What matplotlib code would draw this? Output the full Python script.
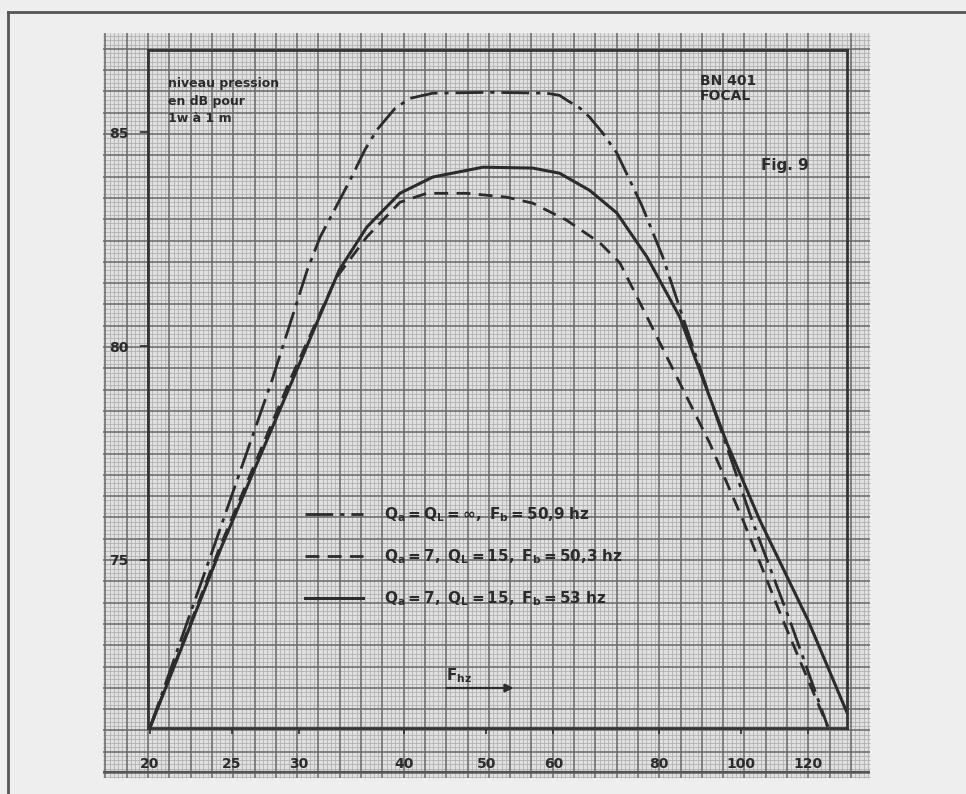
import numpy as np
import matplotlib
matplotlib.use("Agg")
import matplotlib.pyplot as plt
from matplotlib.patches import Rectangle
from matplotlib.ticker import NullLocator, FixedLocator, FixedFormatter

# --- data: sound pressure level (dB, 1 W at 1 m) vs frequency (Hz) ---
freq_inf = [20.0, 23.8, 27.9, 30.7, 31.8, 34.5, 35.9, 37.1, 39.0, 40.6, 43.2, 50.4, 58.9,
            61.0, 62.2, 64.5, 66.2, 68.6, 71.3, 76.3, 80.8, 85.3, 93.8, 103.0, 114.1, 126.6]
spl_inf = [71.07, 75.30, 79.21, 81.78, 82.55, 83.88, 84.58, 85.05, 85.56, 85.79, 85.91, 85.93, 85.91,
           85.86, 85.75, 85.56, 85.35, 84.98, 84.51, 83.29, 82.08, 80.68, 78.27, 75.93, 73.60, 71.10]

freq_503 = [20.0, 24.2, 29.3, 33.2, 36.1, 39.5, 42.5, 47.4, 52.8, 56.7, 62.2,
            68.1, 71.9, 77.4, 84.6, 91.8, 100.5, 112.0, 126.6]
spl_503 = [71.07, 75.30, 79.21, 81.59, 82.55, 83.36, 83.57, 83.57, 83.48, 83.34, 82.94,
           82.41, 81.94, 80.68, 79.14, 77.73, 75.93, 73.60, 71.10]

freq_53 = [20.0, 24.3, 29.5, 33.5, 36.1, 39.5, 43.2, 49.5, 56.7, 61.0, 66.2,
           71.3, 77.4, 84.6, 96.2, 105.2, 119.9, 133.4]
spl_53 = [71.07, 75.30, 79.21, 81.78, 82.78, 83.57, 83.95, 84.18, 84.16, 84.04, 83.64,
          83.11, 82.08, 80.68, 77.73, 75.93, 73.60, 71.43]

series_labels = [r"$Q_a = Q_L = \infty,\ F_b = 50{,}9\ hz$",
                 r"$Q_a = 7,\ Q_L = 15,\ F_b = 50{,}3\ hz$",
                 r"$Q_a = 7,\ Q_L = 15,\ F_b = 53\ hz$"]

x_ticks = [20, 25, 30, 40, 50, 60, 80, 100, 120]
x_tick_labels = ["20", "25", "30", "40", "50", "60", "80", "100", "120"]
y_ticks = [75, 80, 85]
y_tick_labels = ["75", "80", "85"]

INK = "#2b2b2b"
plt.rcParams["mathtext.default"] = "bf"
plt.rcParams["font.family"] = ["DejaVu Sans"]

W, H = 966, 794
fig = plt.figure(figsize=(W / 100, H / 100), dpi=100)
fig.patch.set_facecolor("#eeeeee")

# --- background sheet: millimetre graph paper in pixel space ---
bg = fig.add_axes([0, 0, 1, 1])
bg.set_xlim(0, W)
bg.set_ylim(H, 0)
bg.axis("off")

px0, px1, py0, py1 = 103, 870, 33, 778
bg.add_patch(Rectangle((px0, py0), px1 - px0, py1 - py0, fc="#e0e0e0", ec="none", zorder=0))
step = 21.3 / 5
xs = 148 + step * np.arange(-11, 200)
xs = xs[(xs >= px0) & (xs <= px1)]
ys = 560 + step * np.arange(-150, 60)
ys = ys[(ys >= py0) & (ys <= py1)]
kx = np.round((xs - 148) / step).astype(int)
ky = np.round((ys - 560) / step).astype(int)
bg.vlines(xs[kx % 5 != 0], py0, py1, color="#aeaeae", lw=0.55, zorder=1)
bg.hlines(ys[ky % 5 != 0], px0, px1, color="#aeaeae", lw=0.55, zorder=1)
bg.vlines(xs[kx % 5 == 0], py0, py1, color="#666666", lw=1.1, zorder=2)
bg.hlines(ys[ky % 5 == 0], px0, px1, color="#666666", lw=1.1, zorder=2)
bg.hlines([772], px0, px1, color="#555555", lw=1.6, zorder=2)

# page frame
bg.plot([8, 8], [12, H], color="#555555", lw=2.0, zorder=3)
bg.plot([8, W], [12, 12], color="#555555", lw=2.0, zorder=3)

# --- response curves ---
ax = fig.add_axes([148 / W, (H - 728) / H, 699 / W, 678 / H])
ax.patch.set_alpha(0)
ax.set_xscale("log")
ax.set_xlim(19.9, 133.4)
ax.set_ylim(71.07, 86.92)

l1, = ax.plot(freq_inf, spl_inf, color=INK, lw=2.0, dashes=(10, 2.5, 1.5, 2.5),
              solid_joinstyle="round", dash_joinstyle="round")
l2, = ax.plot(freq_503, spl_503, color=INK, lw=2.0, dashes=(5, 3), dash_joinstyle="round")
l3, = ax.plot(freq_53, spl_53, color=INK, lw=2.2, solid_joinstyle="round")

for s in ax.spines.values():
    s.set_color("#333333")
    s.set_linewidth(2.0)

ax.xaxis.set_major_locator(FixedLocator(x_ticks))
ax.xaxis.set_major_formatter(FixedFormatter(x_tick_labels))
ax.xaxis.set_minor_locator(NullLocator())
ax.yaxis.set_major_locator(FixedLocator(y_ticks))
ax.yaxis.set_major_formatter(FixedFormatter(y_tick_labels))
ax.tick_params(axis="x", direction="out", length=4, width=1.2, color=INK,
               pad=17, labelsize=10, labelcolor=INK)
ax.tick_params(axis="y", direction="out", length=6, width=1.2, color=INK,
               pad=8, labelsize=10, labelcolor=INK)
for t in ax.get_xticklabels() + ax.get_yticklabels():
    t.set_fontweight("bold")

leg = ax.legend([l1, l2, l3], series_labels, loc="upper left",
                bbox_to_anchor=(0.2246, 0.328), frameon=False, borderpad=0,
                borderaxespad=0, handlelength=3.8, handletextpad=1.4,
                labelspacing=1.5, fontsize=11)
for t in leg.get_texts():
    t.set_color(INK)

# annotations written on the sheet
ax.text(0.029, 0.96, "niveau pression\nen dB pour\n1w à 1 m", transform=ax.transAxes,
        fontsize=9, fontweight="bold", color=INK, va="top", ha="left", linespacing=1.45)
ax.text(0.79, 0.965, "BN 401\nFOCAL", transform=ax.transAxes,
        fontsize=10, fontweight="bold", color=INK, va="top", ha="left", linespacing=1.1)
ax.text(0.877, 0.83, "Fig. 9", transform=ax.transAxes,
        fontsize=11, fontweight="bold", color=INK, va="center", ha="left")
ax.text(0.427, 0.063, r"$F_{hz}$", transform=ax.transAxes,
        fontsize=11, color=INK, va="bottom", ha="left")
ax.annotate("", xy=(0.527, 0.059), xytext=(0.423, 0.059), xycoords="axes fraction",
            arrowprops=dict(arrowstyle="-|>", color=INK, lw=1.6, mutation_scale=12))

fig.savefig("out.png", dpi=100, facecolor=fig.get_facecolor())
